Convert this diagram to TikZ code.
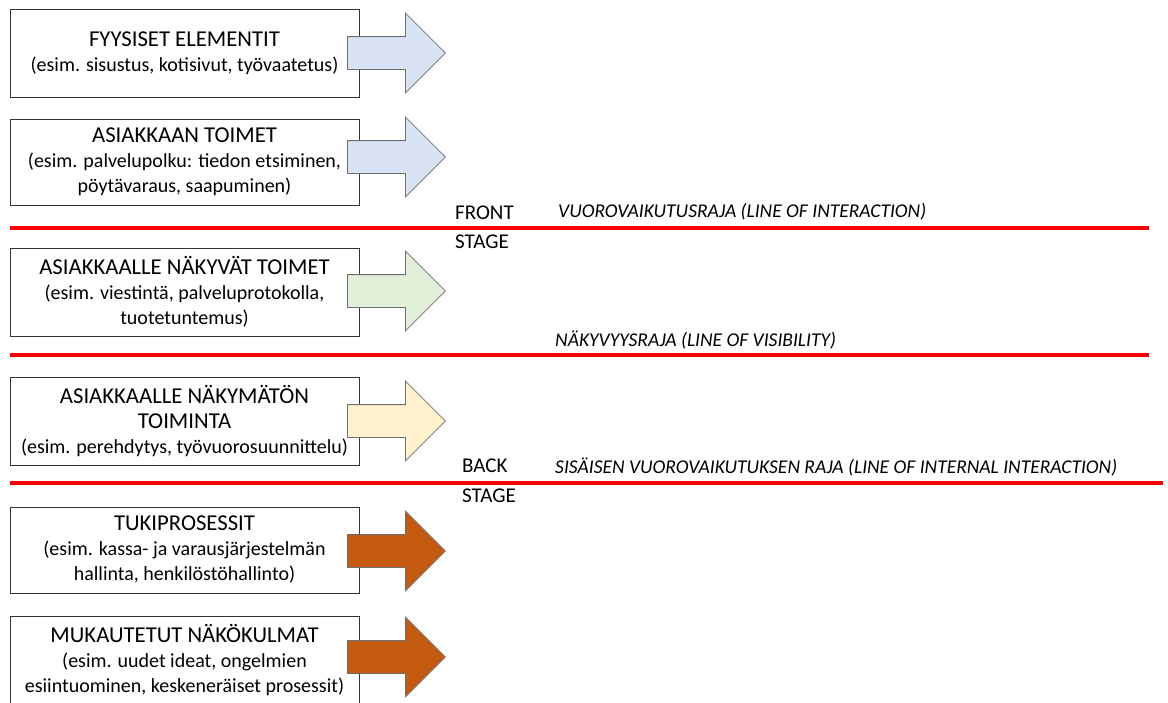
\documentclass[tikz,border=0pt]{standalone}
\usepackage{fontspec}
\setmainfont{Carlito}
\usetikzlibrary{shapes.arrows}

\definecolor{lineRed}{HTML}{FF0000}
\definecolor{arrowBlue}{HTML}{DAE3F3}
\definecolor{arrowGreen}{HTML}{E2F0D9}
\definecolor{arrowYellow}{HTML}{FFF2CC}
\definecolor{arrowBrown}{HTML}{C55A11}
\definecolor{arrowEdge}{HTML}{6E6E6E}
\newcommand{\boxtitle}{\fontsize{22.7}{26}\selectfont}

\begin{document}
\begin{tikzpicture}[x=1pt,y=-1pt]

\tikzset{box/.style = {shape=rectangle,draw=black!80,line width=0.9pt,minimum width=349pt,minimum height=88pt,align=center,inner sep=0pt,font=\fontsize{20}{25}\selectfont}}
\tikzset{blockarrow/.style = {single arrow,draw=arrowEdge,line width=0.8pt,anchor=tail,inner xsep=0pt,inner ysep=16pt,minimum height=98pt,single arrow head extend=23.5pt,single arrow tip angle=90}}
\tikzset{stage/.style = {anchor=west,inner sep=0pt,font=\fontsize{21}{25}\selectfont}}
\tikzset{raja/.style = {anchor=west,inner sep=0pt,font=\fontsize{19.5}{24}\selectfont\itshape}}
\tikzset{raja line/.style = {draw=lineRed,line width=3.5pt}}
\useasboundingbox (0,0) rectangle (1168,702);
%boxes
\node[box] (b1) at (184.5,53) {{\boxtitle FYYSISET ELEMENTIT}\\(esim. sisustus, kotisivut, työvaatetus)};
\node[box, minimum height=86pt] (b2) at (184.5,162) {{\boxtitle ASIAKKAAN TOIMET}\\(esim. palvelupolku: tiedon etsiminen,\\pöytävaraus, saapuminen)};
\node[box] (b3) at (184.5,292) {{\boxtitle ASIAKKAALLE NÄKYVÄT TOIMET}\\(esim. viestintä, palveluprotokolla,\\tuotetuntemus)};
\node[box] (b4) at (184.5,421) {{\boxtitle ASIAKKAALLE NÄKYMÄTÖN}\\{\boxtitle TOIMINTA}\\(esim. perehdytys, työvuorosuunnittelu)};
\node[box, minimum height=86pt] (b5) at (184.5,550) {{\boxtitle TUKIPROSESSIT}\\(esim. kassa- ja varausjärjestelmän\\hallinta, henkilöstöhallinto)};
\node[box] (b6) at (184.5,660) {{\boxtitle MUKAUTETUT NÄKÖKULMAT}\\(esim. uudet ideat, ongelmien\\esiintuominen, keskeneräiset prosessit)};
%arrows
\node[blockarrow, fill=arrowBlue] (a1) at (347,53) {};
\node[blockarrow, fill=arrowBlue] (a2) at (347,157) {};
\node[blockarrow, fill=arrowGreen] (a3) at (347,291) {};
\node[blockarrow, fill=arrowYellow] (a4) at (347,421) {};
\node[blockarrow, fill=arrowBrown] (a5) at (347,551) {};
\node[blockarrow, fill=arrowBrown] (a6) at (347,657) {};
%lines
\draw[raja line] (10,228) -- (1149,228);
\draw[raja line] (10,355) -- (1149,355);
\draw[raja line] (10,483) -- (1163,483);
%labels
\node[stage] (front) at (455,213) {FRONT};
\node[stage] (fstage) at (455,242) {STAGE};
\node[stage] (back) at (462,466) {BACK};
\node[stage] (bstage) at (462,496) {STAGE};
\node[raja] (l1) at (558,212) {VUOROVAIKUTUSRAJA (LINE OF INTERACTION)};
\node[raja] (l2) at (555,340) {NÄKYVYYSRAJA (LINE OF VISIBILITY)};
\node[raja] (l3) at (555,467) {SISÄISEN VUOROVAIKUTUKSEN RAJA (LINE OF INTERNAL INTERACTION)};

\end{tikzpicture}
\end{document}
